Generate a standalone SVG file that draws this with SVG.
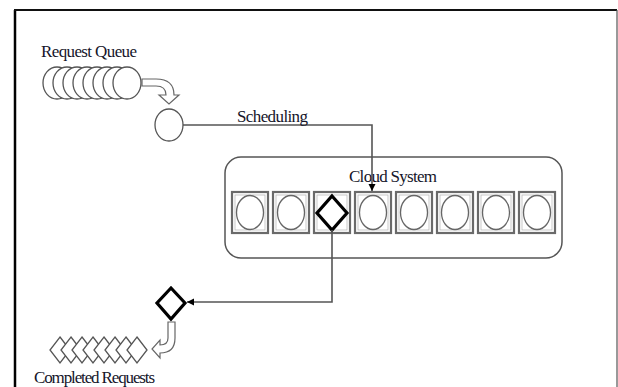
<svg xmlns="http://www.w3.org/2000/svg" width="618" height="387" viewBox="0 0 618 387">
<style>
text{font-family:"Liberation Serif","Times New Roman",serif;font-size:17px;fill:#15152a}
.q{fill:#fff;stroke:#555;stroke-width:1.3}
.box{fill:#fff;stroke:#6a6a6a;stroke-width:2.2}
.inner{fill:none;stroke:#bbb;stroke-width:0.8}
.c{fill:#fff;stroke:#666;stroke-width:1.3}
.dia{fill:#fff;stroke:#000;stroke-width:3.2;stroke-linejoin:miter}
.conn{fill:none;stroke:#555;stroke-width:1.6}
.blk{fill:#fff;stroke:#666;stroke-width:1.2}
</style>
<defs>
<marker id="ah" markerWidth="8" markerHeight="8" refX="7" refY="4" orient="auto" markerUnits="userSpaceOnUse">
<path d="M0,0.5 L7,4 L0,7.5 Z" fill="#000"/>
</marker>
</defs>
<rect width="618" height="387" fill="#fff"/>
<g id="frame">
<line x1="15" y1="10" x2="15" y2="387" stroke="#000" stroke-width="2.5"/>
<line x1="14" y1="10" x2="617" y2="10" stroke="#111" stroke-width="2"/>
<line x1="617" y1="10" x2="617" y2="387" stroke="#555" stroke-width="1.2"/>
</g>
<g id="request-queue">
<text x="41" y="57" textLength="96">Request Queue</text>
<ellipse class="q" cx="57" cy="83" rx="14" ry="16"/>
<ellipse class="q" cx="67" cy="83" rx="14" ry="16"/>
<ellipse class="q" cx="77" cy="83" rx="14" ry="16"/>
<ellipse class="q" cx="87" cy="83" rx="14" ry="16"/>
<ellipse class="q" cx="97" cy="83" rx="14" ry="16"/>
<ellipse class="q" cx="107" cy="83" rx="14" ry="16"/>
<ellipse class="q" cx="117" cy="83" rx="14" ry="16"/>
<ellipse class="q" cx="127" cy="83" rx="14" ry="16"/>
</g>
<g id="queue-arrow">
<path class="blk" d="M142,79 L156,79 Q174,79 174,95 L179,95 L169,104 L159,95 L166,95 Q166,86 156,86 L142,86 Z"/>
</g>
<g id="current-request">
<ellipse class="q" cx="169" cy="125" rx="14" ry="16"/>
</g>
<g id="cloud-system">
<rect x="225" y="157" width="337" height="101" rx="16" ry="16" fill="#fff" stroke="#555" stroke-width="1.5"/>
<text x="349" y="182" textLength="88">Cloud System</text>
<g id="slot1"><rect class="box" x="232" y="192" width="36" height="41"/><rect class="inner" x="235" y="195" width="30" height="35"/><ellipse class="c" cx="250" cy="212.5" rx="13.5" ry="17"/></g>
<g id="slot2"><rect class="box" x="273" y="192" width="36" height="41"/><rect class="inner" x="276" y="195" width="30" height="35"/><ellipse class="c" cx="291" cy="212.5" rx="13.5" ry="17"/></g>
<g id="slot3"><rect class="box" x="314" y="192" width="36" height="41"/><rect class="inner" x="317" y="195" width="30" height="35"/><path class="dia" d="M332,196 L347,213 L332,230 L317,213 Z"/></g>
<g id="slot4"><rect class="box" x="355" y="192" width="36" height="41"/><rect class="inner" x="358" y="195" width="30" height="35"/><ellipse class="c" cx="373" cy="212.5" rx="13.5" ry="17"/></g>
<g id="slot5"><rect class="box" x="396" y="192" width="36" height="41"/><rect class="inner" x="399" y="195" width="30" height="35"/><ellipse class="c" cx="414" cy="212.5" rx="13.5" ry="17"/></g>
<g id="slot6"><rect class="box" x="437" y="192" width="36" height="41"/><rect class="inner" x="440" y="195" width="30" height="35"/><ellipse class="c" cx="455" cy="212.5" rx="13.5" ry="17"/></g>
<g id="slot7"><rect class="box" x="478" y="192" width="36" height="41"/><rect class="inner" x="481" y="195" width="30" height="35"/><ellipse class="c" cx="496" cy="212.5" rx="13.5" ry="17"/></g>
<g id="slot8"><rect class="box" x="519" y="192" width="36" height="41"/><rect class="inner" x="522" y="195" width="30" height="35"/><ellipse class="c" cx="537" cy="212.5" rx="13.5" ry="17"/></g>
</g>
<g id="completed-request">
<path class="dia" d="M171,288 L185,303 L171,319 L157,303 Z"/>
</g>
<g id="done-arrow">
<path class="blk" d="M168,322 L175,322 L175,338 Q175,353 160,353 L160,358 L152,349 L160,340 L160,345 Q168,345 168,338 Z"/>
</g>
<g id="completed-requests">
<path class="q" d="M60,337 L70,350 L60,363 L50,350 Z"/>
<path class="q" d="M71,337 L81,350 L71,363 L61,350 Z"/>
<path class="q" d="M82,337 L92,350 L82,363 L72,350 Z"/>
<path class="q" d="M93,337 L103,350 L93,363 L83,350 Z"/>
<path class="q" d="M104,337 L114,350 L104,363 L94,350 Z"/>
<path class="q" d="M115,337 L125,350 L115,363 L105,350 Z"/>
<path class="q" d="M126,337 L136,350 L126,363 L116,350 Z"/>
<path class="q" d="M137,337 L147,350 L137,363 L127,350 Z"/>
<text x="34" y="383" textLength="121">Completed Requests</text>
</g>
<g id="connectors">
<path class="conn" d="M183,125 L372,125 L372,191" marker-end="url(#ah)"/>
<text x="237" y="122" textLength="71">Scheduling</text>
<path class="conn" d="M332,230 L332,302 L187,302" marker-end="url(#ah)"/>
</g>
</svg>
